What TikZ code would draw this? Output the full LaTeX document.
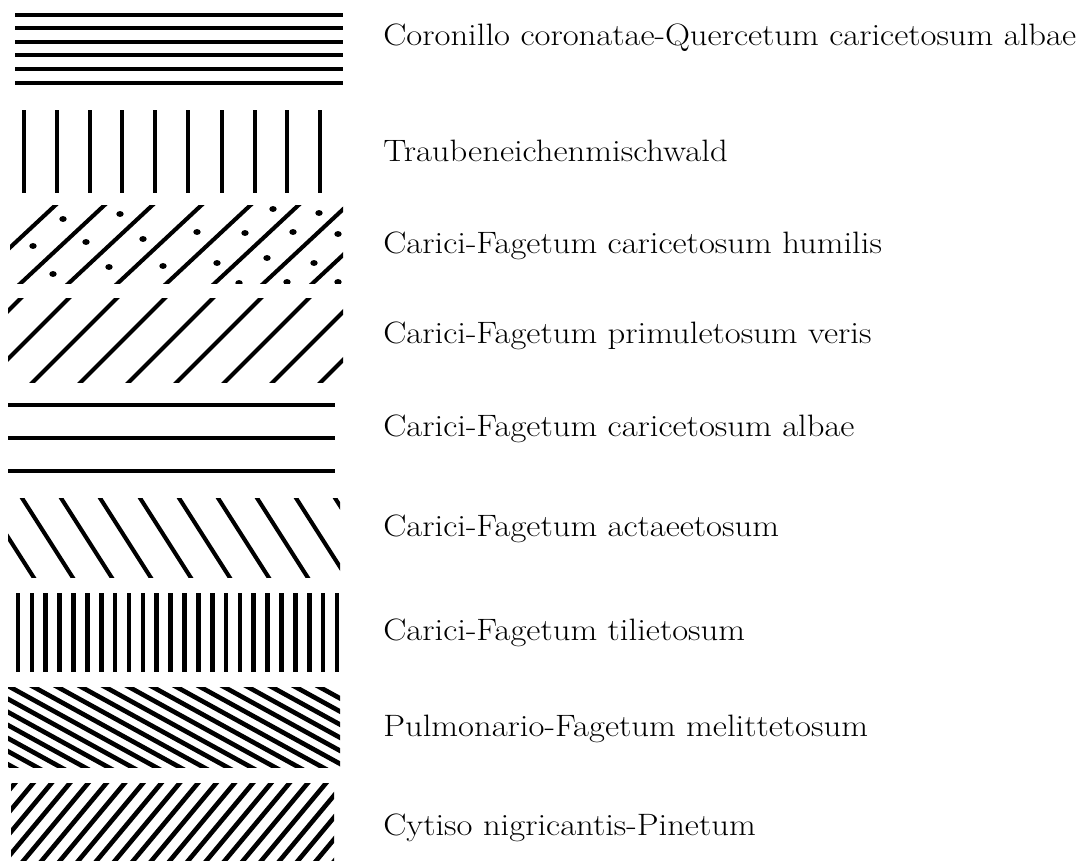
\documentclass[tikz,border=0pt]{standalone}
\usepackage{tikz}

\begin{document}
\begin{tikzpicture}[x=0.025cm,y=-0.025cm,
  hatch/.style={line width=2.9pt},
  bar/.style={line width=3.3pt},
  legend/.style={anchor=base west,inner sep=0pt,xscale=1.12,font=\fontsize{22}{26}\selectfont}]
\useasboundingbox (0,0) rectangle (1087,861);
\fill[white] (0,0) rectangle (1087,861);
% Coronillo-Quercetum
\foreach \y in {15,28,42,55,69,83}{
\draw[hatch] (15,\y) -- (343,\y);
}
% Traubeneichenmischwald
\foreach \x in {24,57,90,122,155,188,222,255,287,320}{
\draw[bar] (\x,110) -- (\x,193);
}
% caricetosum humilis
\begin{scope}
\clip (10,205) rectangle (343,283);
\foreach \b in {-28,21,69,118,167,215,264,313}{
\draw[hatch] (\b-10,292.3) -- (\b+95,194.4);
}
\foreach \p in {(63,219),(120,214),(33,246),(86,242),(143,239),(53,274),(109,267),
  (163,266),(197,232),(245,233),(273,209),(319,213),(293,232),(338,234),(217,263),
  (267,258),(314,263),(287,282),(239,283),(338,282)}{
\fill \p ellipse (2.6pt and 2.1pt);
}
\end{scope}
% primuletosum veris
\begin{scope}
\clip (8,298) rectangle (343,382);
\foreach \b in {-63,-15,33,81,129,177,225,273,321}{
\draw[hatch] (\b-10,392) -- (\b+95,287);
}
\end{scope}
% caricetosum albae
\foreach \y in {405,438,471}{
\draw[hatch] (8,\y) -- (335,\y);
}
% actaeetosum
\begin{scope}
\clip (8,498) rectangle (340,577);
\foreach \t in {-17,22,61,100,140,179,218,257,296,335}{
\draw[hatch] (\t-7,487) -- (\t+57,587.3);
}
\end{scope}
% tilietosum
\foreach \k in {0,...,23}{
\draw[bar] ({18+13.87*\k},593) -- ({18+13.87*\k},672);
}
% Pulmonario-Fagetum
\begin{scope}
\clip (8,687) rectangle (340,767);
\foreach \k in {-7,...,13}{
\draw[bar] ({23.8*\k},681.5) -- ({23.8*\k+170},775);
}
\end{scope}
% Cytiso-Pinetum
\begin{scope}
\clip (11,783) rectangle (334,861);
\foreach \k in {0,...,21}{
\draw[bar] ({23+18.3*\k},773.4) -- ({18.3*\k-60},873);
}
\end{scope}
\node[legend] (cq) at (383,45) {Coronillo coronatae-Quercetum caricetosum albae};
\node[legend] (tr) at (383,161) {Traubeneichenmischwald};
\node[legend] (ch) at (383,253) {Carici-Fagetum caricetosum humilis};
\node[legend] (pv) at (383,343) {Carici-Fagetum primuletosum veris};
\node[legend] (ca) at (383,436) {Carici-Fagetum caricetosum albae};
\node[legend] (ac) at (383,536) {Carici-Fagetum actaeetosum};
\node[legend] (ti) at (383,640) {Carici-Fagetum tilietosum};
\node[legend] (pm) at (383,736) {Pulmonario-Fagetum melittetosum};
\node[legend] (cp) at (383,835) {Cytiso nigricantis-Pinetum};
\end{tikzpicture}
\end{document}
